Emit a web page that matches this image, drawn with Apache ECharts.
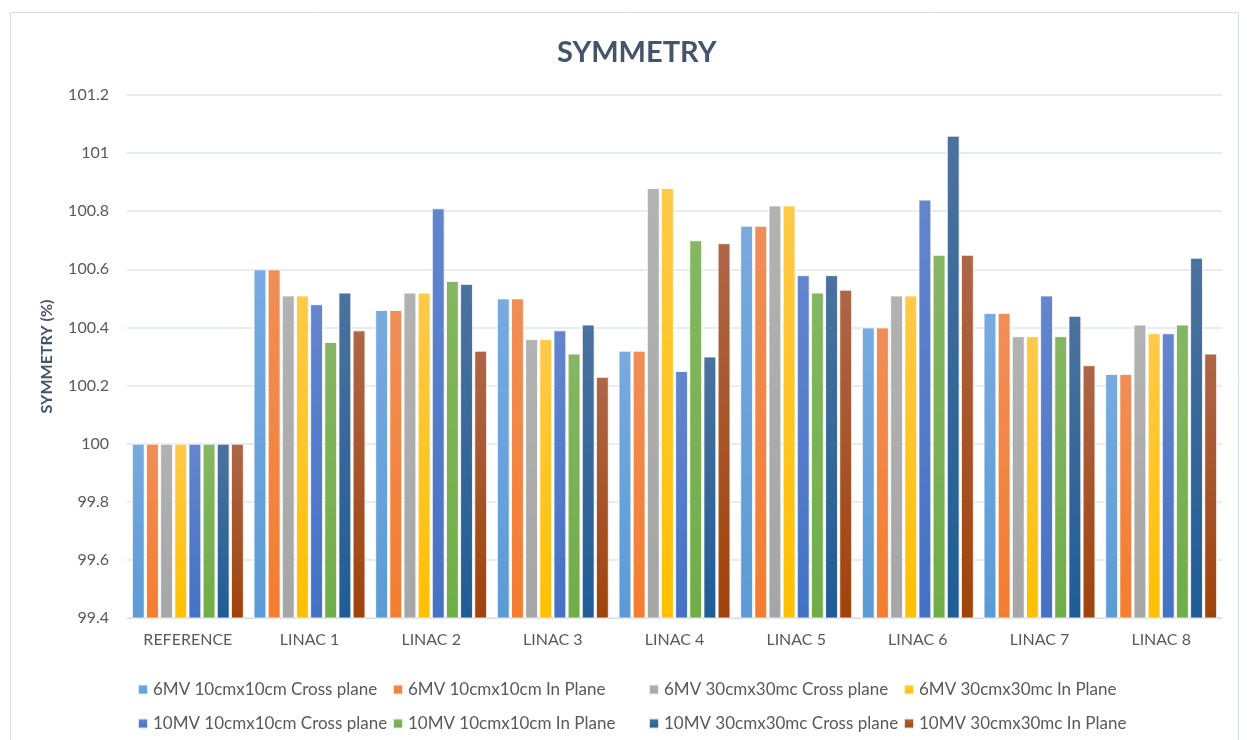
<!DOCTYPE html>
<html>
<head>
<meta charset="utf-8">
<script src="https://cdn.jsdelivr.net/npm/echarts@6/dist/echarts.min.js"></script>
<style>
  html, body { margin: 0; padding: 0; background: #ffffff; }
  #chart { width: 1247px; height: 740px; }
</style>
</head>
<body>
<div id="chart"></div>
<script>
// Categories along the x axis
const categories = ['REFERENCE', 'LINAC 1', 'LINAC 2', 'LINAC 3', 'LINAC 4', 'LINAC 5', 'LINAC 6', 'LINAC 7', 'LINAC 8'];

// Symmetry (%) per beam configuration
const mv6_10_cross  = [100, 100.60, 100.46, 100.50, 100.32, 100.75, 100.40, 100.45, 100.24];
const mv6_10_in     = [100, 100.60, 100.46, 100.50, 100.32, 100.75, 100.40, 100.45, 100.24];
const mv6_30_cross  = [100, 100.51, 100.52, 100.36, 100.88, 100.82, 100.51, 100.37, 100.41];
const mv6_30_in     = [100, 100.51, 100.52, 100.36, 100.88, 100.82, 100.51, 100.37, 100.38];
const mv10_10_cross = [100, 100.48, 100.81, 100.39, 100.25, 100.58, 100.84, 100.51, 100.38];
const mv10_10_in    = [100, 100.35, 100.56, 100.31, 100.70, 100.52, 100.65, 100.37, 100.41];
const mv10_30_cross = [100, 100.52, 100.55, 100.41, 100.30, 100.58, 101.06, 100.44, 100.64];
const mv10_30_in    = [100, 100.39, 100.32, 100.23, 100.69, 100.53, 100.65, 100.27, 100.31];

const seriesNames = [
  '6MV 10cmx10cm Cross plane', '6MV 10cmx10cm In Plane',
  '6MV 30cmx30mc Cross plane', '6MV 30cmx30mc In Plane',
  '10MV 10cmx10cm Cross plane', '10MV 10cmx10cm In Plane',
  '10MV 30cmx30mc Cross plane', '10MV 30cmx30mc In Plane'
];
const seriesValues = [mv6_10_cross, mv6_10_in, mv6_30_cross, mv6_30_in,
                      mv10_10_cross, mv10_10_in, mv10_30_cross, mv10_30_in];

// Y axis range and step
const yMin = 99.4, yMax = 101.2, yStep = 0.2;

// Base colour (bottom of bar / legend) and lighter top tint
const baseColors  = ['#5B9BD5', '#F47D30', '#A6A6A6', '#FFC000', '#4472C4', '#70AD47', '#1F5C96', '#A0430B'];
const lightColors = ['#78AADF', '#F08E58', '#B2B2B2', '#FFCA4A', '#6485CE', '#86B664', '#4C729E', '#AE6648'];

const font = 'Lato, "Open Sans", "Noto Sans", sans-serif';
const textColor = '#595959';

const chart = echarts.init(document.getElementById('chart'), null, { renderer: 'canvas' });

const series = seriesNames.map((name, i) => ({
  name: name,
  type: 'bar',
  data: seriesValues[i],
  barGap: '10%',
  barCategoryGap: '8%',
  color: baseColors[i],
  itemStyle: {
    color: new echarts.graphic.LinearGradient(0, 0, 0, 1, [
      { offset: 0, color: lightColors[i] },
      { offset: 1, color: baseColors[i] }
    ]),
    borderColor: 'rgba(255,255,255,0.8)',
    borderWidth: 1
  }
}));

// Legend laid out as 4 columns of 2 entries (row 1: first four, row 2: last four)
const legendColumns = [132, 387, 643, 898];
const legends = legendColumns.map((x, c) => ({
  left: x,
  top: 676,
  orient: 'vertical',
  itemWidth: 10,
  itemHeight: 10,
  itemGap: 17,
  icon: 'rect',
  textStyle: { fontFamily: font, fontSize: 17, color: textColor },
  data: [seriesNames[c], seriesNames[c + 4]]
}));

chart.setOption({
  backgroundColor: '#ffffff',
  animation: false,
  title: {
    text: 'SYMMETRY',
    left: 552,
    top: 33,
    textStyle: { fontFamily: font, fontSize: 29, fontWeight: 'bold', color: '#44546A' }
  },
  legend: legends,
  grid: { left: 127, right: 25, top: 95, bottom: 122, containLabel: false },
  xAxis: {
    type: 'category',
    data: categories,
    axisLine: { show: true, lineStyle: { color: '#D9DDE3', width: 1 } },
    axisTick: { show: false },
    axisLabel: { fontFamily: font, fontSize: 16, color: textColor, margin: 14 }
  },
  yAxis: {
    type: 'value',
    min: yMin,
    max: yMax,
    interval: yStep,
    name: 'SYMMETRY (%)',
    nameLocation: 'middle',
    nameGap: 72,
    nameRotate: 90,
    nameTextStyle: { fontFamily: font, fontSize: 16, fontWeight: 'bold', color: '#44546A' },
    axisLine: { show: false },
    axisTick: { show: false },
    splitLine: { lineStyle: { color: '#E1E5EA', width: 1.5 } },
    axisLabel: {
      fontFamily: font, fontSize: 16, color: textColor, margin: 18,
      formatter: v => String(Math.round(v * 10) / 10)
    }
  },
  graphic: [{
    type: 'rect',
    shape: { x: 10.5, y: 12.5, width: 1228, height: 740 },
    style: { fill: 'none', stroke: '#D9DDE3', lineWidth: 1 },
    silent: true,
    z: -1
  }],
  series: series
});
</script>
</body>
</html>
